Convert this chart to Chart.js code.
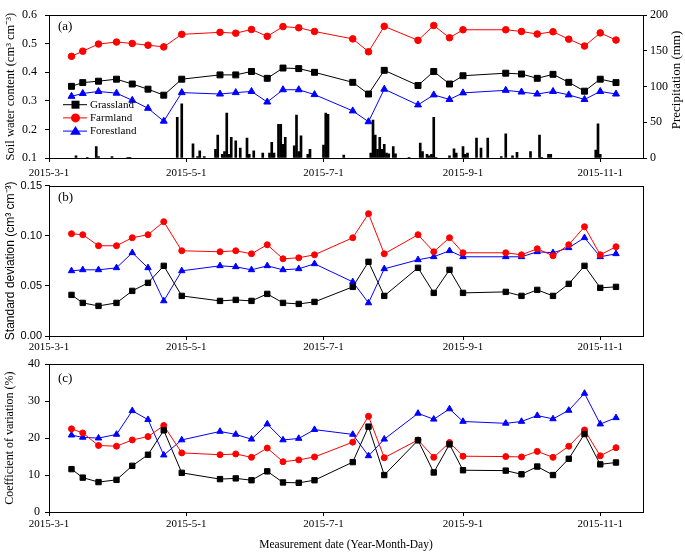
<!DOCTYPE html>
<html>
<head>
<meta charset="utf-8">
<script src="https://cdn.jsdelivr.net/npm/chart.js@4.4.1/dist/chart.umd.min.js"></script>
<style>
  body { margin: 0; background: #fff; overflow: hidden; }
  canvas.panel { position: absolute; left: 0; }
</style>
</head>
<body>
<canvas id="chartA" class="panel" width="685" height="180" style="top:0px"></canvas>
<canvas id="chartB" class="panel" width="685" height="180" style="top:176px"></canvas>
<canvas id="chartC" class="panel" width="685" height="200" style="top:352px"></canvas>
<script>
// measurement dates
const dates = ['2015-3-11', '2015-3-16', '2015-3-23', '2015-3-31', '2015-4-7', '2015-4-14', '2015-4-21', '2015-4-29',
  '2015-5-16', '2015-5-23', '2015-5-30', '2015-6-6', '2015-6-13', '2015-6-20', '2015-6-27',
  '2015-7-14', '2015-7-21', '2015-7-28', '2015-8-12', '2015-8-19', '2015-8-26', '2015-9-1',
  '2015-9-20', '2015-9-27', '2015-10-4', '2015-10-11', '2015-10-18', '2015-10-25', '2015-11-1', '2015-11-8'];

// (a) soil water content
const swcGrass = [0.351, 0.364, 0.369, 0.376, 0.359, 0.341, 0.320, 0.376, 0.391, 0.391, 0.403, 0.379, 0.415, 0.413, 0.400,
  0.365, 0.324, 0.407, 0.354, 0.403, 0.359, 0.388, 0.397, 0.394, 0.379, 0.393, 0.365, 0.334, 0.376, 0.364];
const swcFarm = [0.456, 0.474, 0.499, 0.506, 0.501, 0.495, 0.489, 0.533, 0.540, 0.537, 0.550, 0.526, 0.560, 0.556, 0.543,
  0.517, 0.472, 0.561, 0.512, 0.564, 0.521, 0.549, 0.549, 0.543, 0.534, 0.542, 0.516, 0.492, 0.538, 0.513];
const swcForest = [0.316, 0.326, 0.333, 0.327, 0.302, 0.274, 0.229, 0.329, 0.324, 0.329, 0.333, 0.296, 0.339, 0.339, 0.322,
  0.265, 0.227, 0.341, 0.286, 0.321, 0.305, 0.328, 0.337, 0.331, 0.324, 0.333, 0.321, 0.305, 0.333, 0.324];

// (b) standard deviation
const sdGrass = [0.041, 0.033, 0.030, 0.033, 0.045, 0.053, 0.070, 0.040, 0.035, 0.036, 0.035, 0.042, 0.033, 0.032, 0.034,
  0.049, 0.074, 0.040, 0.068, 0.043, 0.066, 0.043, 0.044, 0.040, 0.046, 0.040, 0.052, 0.070, 0.048, 0.049];
const sdFarm = [0.102, 0.101, 0.090, 0.090, 0.098, 0.101, 0.114, 0.085, 0.084, 0.085, 0.082, 0.091, 0.077, 0.078, 0.081,
  0.098, 0.122, 0.082, 0.101, 0.084, 0.098, 0.083, 0.083, 0.081, 0.087, 0.080, 0.091, 0.109, 0.081, 0.089];
const sdForest = [0.065, 0.066, 0.066, 0.068, 0.083, 0.068, 0.035, 0.065, 0.070, 0.069, 0.066, 0.070, 0.066, 0.067, 0.072,
  0.054, 0.033, 0.067, 0.076, 0.079, 0.085, 0.079, 0.079, 0.079, 0.084, 0.083, 0.088, 0.098, 0.079, 0.082];

// (c) coefficient of variation (%)
const cvGrass = [11.6, 9.3, 8.1, 8.7, 12.5, 15.5, 22.1, 10.6, 8.9, 9.1, 8.6, 11.0, 8.0, 7.9, 8.6,
  13.5, 23.1, 10.0, 19.4, 10.7, 18.3, 11.3, 11.2, 10.2, 12.3, 10.0, 14.4, 21.1, 12.9, 13.4];
const cvFarm = [22.5, 21.4, 18.0, 17.8, 19.5, 20.4, 23.4, 16.0, 15.5, 15.7, 14.8, 17.3, 13.6, 14.1, 14.9,
  18.9, 25.9, 14.7, 19.5, 14.8, 18.8, 15.1, 15.0, 14.9, 16.4, 14.8, 17.8, 22.2, 15.2, 17.4];
const cvForest = [20.8, 20.2, 20.0, 21.0, 27.4, 25.0, 15.4, 19.5, 21.8, 21.0, 19.7, 23.8, 19.5, 19.9, 22.3,
  21.0, 15.2, 19.7, 26.7, 25.1, 27.9, 24.5, 24.0, 24.5, 26.1, 25.2, 27.5, 32.1, 23.8, 25.5];

// daily precipitation, day = days after 2015-3-1
const rainDay = [12, 17, 21, 22, 28, 35, 36, 57, 59, 64, 66, 67, 69, 74, 75, 77, 78, 79, 80, 81, 83,
  85, 88, 89, 91, 95, 98, 99, 100, 102, 103, 104, 105, 109, 110, 111, 112, 115, 116, 122, 123, 124, 131,
  143, 144, 145, 146, 147, 148, 149, 150, 151, 153, 154, 160, 165, 166, 168, 169, 170, 171, 172,
  178, 180, 181, 184, 185, 186, 190, 192, 195, 201, 203, 206, 208, 214, 218, 219, 222, 223, 243, 244, 245];
const rainMm = [3, 1, 16, 2, 2, 1, 1, 57, 76, 20, 2, 10, 2, 12, 32, 5, 9, 63, 5, 29, 24,
  14, 28, 5, 10, 7, 7, 22, 7, 47, 47, 19, 29, 17, 60, 9, 31, 5, 12, 18, 63, 61, 4,
  7, 53, 32, 12, 29, 12, 19, 7, 6, 16, 6, 1, 21, 9, 5, 3, 5, 57, 1,
  3, 13, 7, 16, 5, 7, 28, 14, 28, 2, 34, 3, 8, 9, 32, 1, 5, 5, 11, 48, 5];

// tick labels
const xTickLabels = ['2015-3-1', '2015-5-1', '2015-7-1', '2015-9-1', '2015-11-1'];
const swcTicks = [0.1, 0.2, 0.3, 0.4, 0.5, 0.6];
const rainTicks = [0, 50, 100, 150, 200];
const sdTicks = [0, 0.05, 0.10, 0.15];
const cvTicks = [0, 10, 20, 30, 40];

const SERIF = "'Liberation Serif', 'Times New Roman', serif";
const SANS = "'Liberation Sans', Arial, sans-serif";
Chart.defaults.font.family = SERIF;
Chart.defaults.color = '#000';

const start = Date.UTC(2015, 2, 1);
function dayOf(s) {
  const p = s.split('-').map(Number);
  return (Date.UTC(p[0], p[1] - 1, p[2]) - start) / 86400000;
}
const xDays = dates.map(dayOf);
const tickDays = xTickLabels.map(dayOf);

function series(values) {
  return values.map((v, i) => ({ x: xDays[i], y: v }));
}

function lineSet(label, values, color, style, r) {
  return {
    type: 'line', label: label, data: series(values),
    borderColor: color, backgroundColor: color, borderWidth: 1,
    pointStyle: style, pointRadius: r, pointBorderWidth: 1,
    tension: 0, order: 1, yAxisID: 'y'
  };
}

function xAxis(h, pad, title) {
  return {
    type: 'linear', min: 0, max: 264, offset: false,
    afterBuildTicks: s => { s.ticks = tickDays.map(v => ({ value: v })); },
    afterFit: s => { s.height = h; },
    grid: { drawOnChartArea: false, offset: false, color: '#000', tickLength: 4 },
    border: { color: '#000' },
    ticks: {
      font: { family: SERIF, size: 11 }, padding: pad, maxRotation: 0, autoSkip: false,
      callback: v => { const i = tickDays.indexOf(v); return i < 0 ? '' : xTickLabels[i]; }
    },
    title: title ? { display: true, text: title, font: { family: SERIF, size: 11.5 }, padding: { top: 0, bottom: 0 } } : { display: false }
  };
}

function yAxis(min, max, ticks, fmt, font, pad, title, titleFont) {
  return {
    position: 'left', min: min, max: max,
    afterBuildTicks: s => { s.ticks = ticks.map(v => ({ value: v })); },
    afterFit: s => { s.width = 49; },
    grid: { drawOnChartArea: false, color: '#000', tickLength: 4 },
    border: { color: '#000' },
    ticks: { font: font, padding: pad, callback: fmt },
    title: { display: true, text: title, font: titleFont, padding: { top: 3, bottom: 0 } }
  };
}

// box round the plot + panel letter
const frame = {
  id: 'frame',
  afterDraw(chart, args, opts) {
    const a = chart.chartArea, c = chart.ctx;
    c.save();
    c.strokeStyle = '#000';
    c.lineWidth = 1;
    c.strokeRect(Math.round(a.left) + 0.5, Math.round(a.top) + 0.5,
      Math.round(a.right) - Math.round(a.left), Math.round(a.bottom) - Math.round(a.top));
    c.font = '13px ' + SERIF;
    c.textBaseline = 'middle';
    c.textAlign = 'left';
    c.fillStyle = '#000';
    c.fillText(opts.letter, a.left + 9, a.top + opts.dy);
    c.restore();
  }
};

function marker(c, style, x, y, r) {
  c.beginPath();
  if (style === 'rect') {
    c.rect(x - r, y - r, 2 * r, 2 * r);
  } else if (style === 'circle') {
    c.arc(x, y, r, 0, Math.PI * 2);
  } else {
    c.moveTo(x, y - r);
    c.lineTo(x + r * 1.1, y + r * 0.75);
    c.lineTo(x - r * 1.1, y + r * 0.75);
    c.closePath();
  }
  c.fill();
}

const legendItems = [
  { text: 'Grassland', color: '#000', style: 'rect', r: 4 },
  { text: 'Farmland', color: '#ff0000', style: 'circle', r: 4.5 },
  { text: 'Forestland', color: '#0000ff', style: 'triangle', r: 5 }
];

const extrasA = {
  id: 'extrasA',
  afterDraw(chart) {
    const c = chart.ctx;
    c.save();
    legendItems.forEach((it, i) => {
      const y = 104.7 + i * 13.2;
      c.strokeStyle = it.color;
      c.fillStyle = it.color;
      c.lineWidth = 1;
      c.beginPath(); c.moveTo(63, y); c.lineTo(87, y); c.stroke();
      marker(c, it.style, 75.5, y, it.r);
      c.fillStyle = '#000';
      c.font = '11px ' + SERIF;
      c.textBaseline = 'middle';
      c.textAlign = 'left';
      c.fillText(it.text, 90, y + 0.5);
    });
    // right axis title reads bottom to top
    c.translate(677, 80);
    c.rotate(-Math.PI / 2);
    c.font = '13px ' + SERIF;
    c.textAlign = 'center';
    c.textBaseline = 'middle';
    c.fillStyle = '#000';
    c.fillText('Precipitation (mm)', 0, 0);
    c.restore();
  }
};

const common = {
  responsive: false,
  animation: false,
  plugins: { legend: { display: false }, tooltip: { enabled: false } }
};

new Chart(document.getElementById('chartA'), {
  type: 'line',
  data: {
    datasets: [
      lineSet('Grassland', swcGrass, '#000', 'rect', 4.2),
      lineSet('Farmland', swcFarm, '#ff0000', 'circle', 3.3),
      lineSet('Forestland', swcForest, '#0000ff', 'triangle', 4),
      {
        type: 'bar', label: 'Precipitation',
        data: rainDay.map((d, i) => ({ x: d, y: rainMm[i] })),
        backgroundColor: '#000', barThickness: 2, yAxisID: 'yR', order: 10
      }
    ]
  },
  options: Object.assign({}, common, {
    layout: { padding: { top: 5, left: 0, right: 0, bottom: 0 } },
    plugins: Object.assign({}, common.plugins, { frame: { letter: '(a)', dy: 11 } }),
    scales: {
      x: xAxis(22, 4.5),
      y: yAxis(0.1, 0.6, swcTicks, v => v.toFixed(1), { family: SERIF, size: 12 }, 8,
        'Soil water content (cm³ cm⁻³)', { family: SERIF, size: 12.5 }),
      yR: {
        position: 'right', min: 0, max: 200,
        afterBuildTicks: s => { s.ticks = rainTicks.map(v => ({ value: v })); },
        afterFit: s => { s.width = 42; },
        grid: { drawOnChartArea: false, color: '#000', tickLength: 4 },
        border: { color: '#000' },
        ticks: { font: { family: SERIF, size: 12 }, padding: 3 }
      }
    }
  }),
  plugins: [frame, extrasA]
});

new Chart(document.getElementById('chartB'), {
  type: 'line',
  data: {
    datasets: [
      lineSet('Grassland', sdGrass, '#000', 'rect', 3.8),
      lineSet('Farmland', sdFarm, '#ff0000', 'circle', 3),
      lineSet('Forestland', sdForest, '#0000ff', 'triangle', 3.7)
    ]
  },
  options: Object.assign({}, common, {
    layout: { padding: { top: 7, left: 0, right: 42, bottom: 0 } },
    plugins: Object.assign({}, common.plugins, { frame: { letter: '(b)', dy: 12 } }),
    scales: {
      x: xAxis(20, 1),
      y: yAxis(0, 0.15, sdTicks, v => v.toFixed(2), { family: SANS, size: 11 }, 3,
        'Standard deviation (cm³ cm⁻³)', { family: SANS, size: 12 })
    }
  }),
  plugins: [frame]
});

new Chart(document.getElementById('chartC'), {
  type: 'line',
  data: {
    datasets: [
      lineSet('Grassland', cvGrass, '#000', 'rect', 3.8),
      lineSet('Farmland', cvFarm, '#ff0000', 'circle', 3),
      lineSet('Forestland', cvForest, '#0000ff', 'triangle', 3.7)
    ]
  },
  options: Object.assign({}, common, {
    layout: { padding: { top: 8, left: 0, right: 42, bottom: 0 } },
    plugins: Object.assign({}, common.plugins, { frame: { letter: '(c)', dy: 14 } }),
    scales: {
      x: xAxis(40, 2, 'Measurement date (Year-Month-Day)'),
      y: yAxis(0, 40, cvTicks, v => String(v), { family: SERIF, size: 12 }, 5,
        'Coefficient of variation (%)', { family: SERIF, size: 12 })
    }
  }),
  plugins: [frame]
});
</script>
</body>
</html>
